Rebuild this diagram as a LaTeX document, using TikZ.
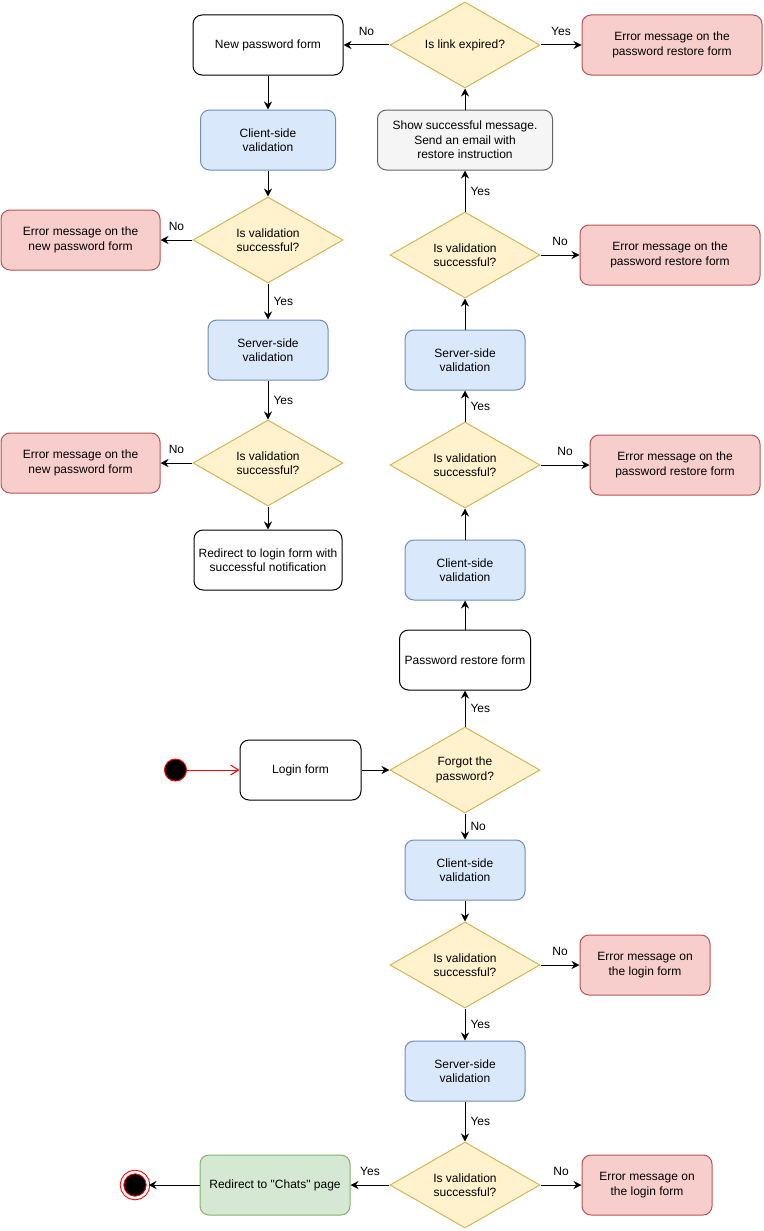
\documentclass[tikz,border=0pt]{standalone}
\usepackage{fontspec}
\setmainfont{Liberation Sans}[Ligatures=TeXOff]
\usepackage{tikz}
\usetikzlibrary{arrows.meta}
\usetikzlibrary{shapes.geometric}
\definecolor{decFill}{HTML}{FFF2CC}
\definecolor{decLine}{HTML}{D6B656}
\definecolor{blueFill}{HTML}{DAE8FC}
\definecolor{blueLine}{HTML}{6C8EBF}
\definecolor{redFill}{HTML}{F8CECC}
\definecolor{redLine}{HTML}{B85450}
\definecolor{greenFill}{HTML}{D5E8D4}
\definecolor{greenLine}{HTML}{82B366}
\definecolor{grayFill}{HTML}{F5F5F5}
\definecolor{grayLine}{HTML}{666666}
\tikzstyle{basebox}=[rectangle,rounded corners=9pt,line width=1pt,minimum height=60pt,align=center,inner sep=2pt,font=\fontsize{12}{14.5}\selectfont]
\tikzstyle{formbox}=[basebox,fill=white,draw=black]
\tikzstyle{validbox}=[basebox,fill=blueFill,draw=blueLine]
\tikzstyle{errorbox}=[basebox,fill=redFill,draw=redLine]
\tikzstyle{notebox}=[basebox,fill=grayFill,draw=grayLine]
\tikzstyle{donebox}=[basebox,fill=greenFill,draw=greenLine]
\tikzstyle{decision}=[diamond,aspect=1.74,fill=decFill,draw=decLine,line width=1pt,minimum width=150pt,minimum height=86pt,inner sep=0pt,align=center,font=\fontsize{12}{14.5}\selectfont]
\tikzstyle{edge} = [draw,line width=1pt,-{Stealth[length=8pt,width=8pt]}]
\tikzstyle{answer} = [font=\fontsize{12}{14}\selectfont,inner sep=3pt]
\tikzstyle{topans} = [answer,above=6pt]
\tikzstyle{sideans} = [answer,right=2pt]

\begin{document}
\begin{tikzpicture}[x=1pt,y=-1pt]
    \useasboundingbox (0,0) rectangle (763,1231);
    % Plain forms
    \foreach \pos/\name/\boxw/\words in {{(268,45)/newpw/150/{New password form}}, {(268,560)/redirL/148/{Redirect to login form with\\successful notification}}, {(465,660)/pwrestore/131/{Password restore form}}, {(300.5,770)/login/121/{Login form}}}
        \node[formbox, minimum width=\boxw pt] (\name) at \pos {\words};
    % Validation steps
    \foreach \pos/\name/\boxw/\words in {{(268,140)/clientL/135/{Client-side\\validation}}, {(268,350)/serverL/120/{Server-side\\validation}}, {(465,360)/serverR/120/{Server-side\\validation}}, {(465,570)/clientR/120/{Client-side\\validation}}, {(465,870)/clientB/120/{Client-side\\validation}}, {(465,1071)/serverB/120/{Server-side\\validation}}}
        \node[validbox, minimum width=\boxw pt] (\name) at \pos {\words};
    % Error messages
    \foreach \pos/\name/\boxw/\words in {{(672,45)/errR0/180/{Error message on the\\password restore form}}, {(80.5,240)/errL1/159/{Error message on the\\new password form}}, {(670,255)/errR1/180/{Error message on the\\password restore form}}, {(80.5,463)/errL2/159/{Error message on the\\new password form}}, {(675,465)/errR2/170/{Error message on the\\password restore form}}, {(645,965)/errB1/130/{Error message on\\the login form}}, {(647,1185)/errB2/130/{Error message on\\the login form}}}
        \node[errorbox, minimum width=\boxw pt] (\name) at \pos {\words};
    \node[notebox, minimum width=175pt] (showmsg) at (465,140) {Show successful message.\\Send an email with\\restore instruction};
    \node[donebox, minimum width=150pt] (chats) at (275,1185) {Redirect to "Chats" page};
    % Decisions
    \foreach \pos/\name/\words in {{(465,45)/expired/{Is link expired?}}, {(268,240)/validL1/{Is validation\\successful?}}, {(465,255)/validR1/{Is validation\\successful?}}, {(268,463)/validL2/{Is validation\\successful?}}, {(465,465)/validR2/{Is validation\\successful?}}, {(465,770)/forgot/{Forgot the\\password?}}, {(465,965)/validB1/{Is validation\\successful?}}, {(465,1185)/validB2/{Is validation\\successful?}}}
        \node[decision] (\name) at \pos {\words};
    % Initial and final states
    \node[circle,fill=black,draw=red,line width=1pt,minimum size=22pt,inner sep=0pt] (init) at (175.5,770) {};
    \node[circle,fill=black,draw=red,line width=1pt,double=white,double distance=2.5pt,minimum size=26pt,inner sep=0pt] (finish) at (135,1185) {};
    % Connect steps with arrows and draw answers
    \foreach \source/ \dest /\lbl/\where in {expired/newpw/No/topans, expired/errR0/Yes/topans, validR1/showmsg/Yes/sideans, validL1/errL1/No/topans, validL1/serverL/Yes/sideans, serverL/validL2/Yes/sideans, validL2/errL2/No/topans, validR1/errR1/No/topans, validR2/serverR/Yes/sideans, validR2/errR2/No/topans, forgot/pwrestore/Yes/sideans, forgot/clientB/No/sideans, validB1/errB1/No/topans, validB1/serverB/Yes/sideans, serverB/validB2/Yes/sideans, validB2/chats/Yes/topans, validB2/errB2/No/topans}
        \path[edge] (\source) -- node[\where] {\lbl} (\dest);
    \foreach \source/ \dest in {newpw/clientL, clientL/validL1, validL2/redirL, showmsg/expired, serverR/validR1, clientR/validR2, pwrestore/clientR, login/forgot, clientB/validB1, chats/finish}
        \path[edge] (\source) -- (\dest);
    \draw[red,line width=1pt,-{Straight Barb[length=8pt,width=10pt]}] (init) -- (login);
\end{tikzpicture}
\end{document}
